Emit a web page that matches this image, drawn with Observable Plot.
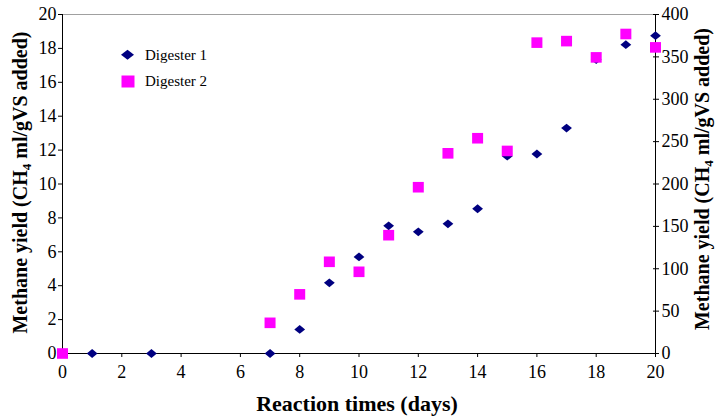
<!DOCTYPE html>
<html>
<head>
<meta charset="utf-8">
<script src="https://cdn.jsdelivr.net/npm/d3@7"></script>
<script src="https://cdn.jsdelivr.net/npm/@observablehq/plot@0.6"></script>
<style>
  html, body { margin: 0; padding: 0; background: #fff; }
  #chart svg, #chart svg text { font-family: "Liberation Serif", "Times New Roman", serif !important; }
</style>
</head>
<body>
<div id="chart"></div>
<script>
// ---- data ----
const days1 = [0, 1, 3, 7, 8, 9, 10, 11, 12, 13, 14, 15, 16, 17, 18, 19, 20];
const yield1 = [0, 0, 0, 0, 1.42, 4.17, 5.70, 7.53, 7.18, 7.65, 8.54, 11.64, 11.77, 13.30, 17.34, 18.22, 18.75];
const days2 = [0, 7, 8, 9, 10, 11, 12, 13, 14, 15, 16, 17, 18, 19, 20];
const yield2 = [0, 1.81, 3.49, 5.41, 4.82, 6.98, 9.81, 11.81, 12.70, 11.95, 18.34, 18.43, 17.47, 18.85, 18.06];
const seriesNames = ["Digester 1", "Digester 2"];
const xTicks = [0, 2, 4, 6, 8, 10, 12, 14, 16, 18, 20];
const leftTicks = [0, 2, 4, 6, 8, 10, 12, 14, 16, 18, 20];
const rightTickLabels = [0, 50, 100, 150, 200, 250, 300, 350, 400];
const xTitle = "Reaction times (days)";

const d1 = days1.map((d, i) => ({day: d, v: yield1[i]}));
const d2 = days2.map((d, i) => ({day: d, v: yield2[i]}));
const rightRatio = 400 / 20;

function diamond(w, h) {
  return {draw(ctx) { ctx.moveTo(0, -h); ctx.lineTo(w, 0); ctx.lineTo(0, h); ctx.lineTo(-w, 0); ctx.closePath(); }};
}
function rect(w, h) {
  return {draw(ctx) { ctx.moveTo(-w, -h); ctx.lineTo(w, -h); ctx.lineTo(w, h); ctx.lineTo(-w, h); ctx.closePath(); }};
}
const navy = "#000080", magenta = "#ff00ff";
const ff = "'Liberation Serif', 'Times New Roman', serif";

const chart = Plot.plot({
  width: 715, height: 419,
  marginLeft: 62, marginRight: 60, marginTop: 14, marginBottom: 66,
  style: {fontFamily: ff, background: "#fff", color: "#000"},
  x: {domain: [0, 20]},
  y: {domain: [0, 20]},
  marks: [
    Plot.ruleY([20], {stroke: "#a0a0a0"}),
    Plot.axisX({ticks: xTicks, tickSize: 4, tickPadding: 8, fontSize: 18, label: null, stroke: "#000", fontFamily: ff}),
    Plot.axisY({anchor: "left", ticks: leftTicks, tickSize: 4, tickPadding: 2, fontSize: 18, label: null, fontFamily: ff}),
    Plot.axisY({anchor: "right", ticks: rightTickLabels.map(t => t / rightRatio), tickFormat: d => Math.round(d * rightRatio),
      tickSize: 6, dx: -3, tickPadding: 3, fontSize: 18, label: null, fontFamily: ff}),
    Plot.ruleX([0], {stroke: "#000"}),
    Plot.ruleX([20], {stroke: "#000"}),
    Plot.ruleY([0], {stroke: "#000"}),
    Plot.dot(d1, {x: "day", y: "v", symbol: diamond(5.4, 4.4), fill: navy, stroke: null}),
    Plot.dot(d2, {x: "day", y: "v", symbol: rect(5.5, 5.3), fill: magenta, stroke: null}),
    // legend
    Plot.dot([seriesNames[0]], {frameAnchor: "top-left", dx: 65, dy: 40.3, symbol: diamond(6.5, 5), fill: navy, stroke: null}),
    Plot.dot([seriesNames[1]], {frameAnchor: "top-left", dx: 65.5, dy: 67, symbol: rect(6.5, 6), fill: magenta, stroke: null}),
    Plot.text([seriesNames[0]], {text: d => d, frameAnchor: "top-left", dx: 82.5, dy: 40.3, textAnchor: "start", lineAnchor: "middle", fontSize: 15, fill: "#000", fontFamily: ff}),
    Plot.text([seriesNames[1]], {text: d => d, frameAnchor: "top-left", dx: 82.5, dy: 67, textAnchor: "start", lineAnchor: "middle", fontSize: 15, fill: "#000", fontFamily: ff})
  ]
});

document.getElementById("chart").appendChild(chart);

const svg = d3.select(chart);
svg.append("text")
  .attr("x", 357).attr("y", 411)
  .attr("text-anchor", "middle")
  .attr("font-family", ff).attr("font-weight", "bold").attr("font-size", 22)
  .attr("fill", "#000")
  .text(xTitle);

function yTitle(x, y) {
  return svg.append("text")
    .attr("transform", `translate(${x},${y}) rotate(-90)`)
    .attr("text-anchor", "middle")
    .attr("font-family", ff).attr("font-weight", "bold").attr("font-size", 20)
    .attr("fill", "#000");
}
function fillTitle(t) {
  t.append("tspan").text("Methane yield (CH");
  t.append("tspan").attr("font-size", 13).attr("dy", 4).text("4");
  t.append("tspan").attr("dy", -4).text(" ml/gVS added)");
}
fillTitle(yTitle(27, 182.5));
fillTitle(yTitle(709, 179));
</script>
</body>
</html>
